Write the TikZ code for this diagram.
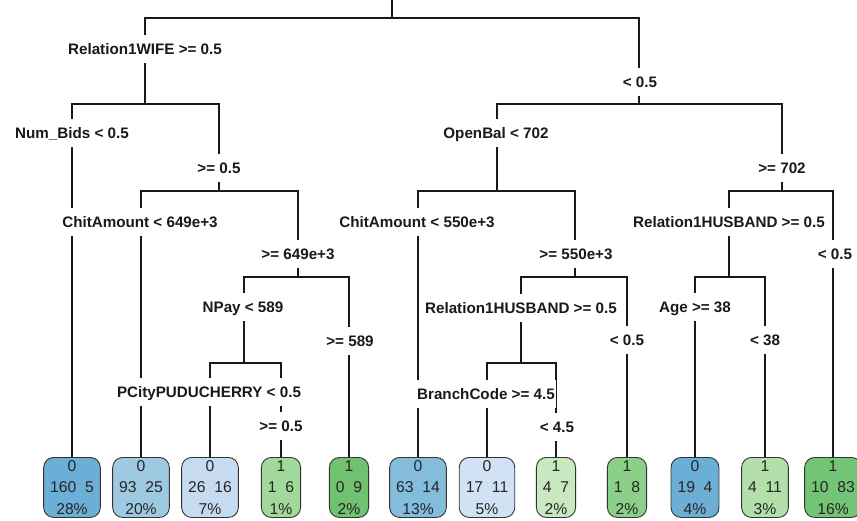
\documentclass[tikz,border=0pt]{standalone}
\usepackage{fontspec}
\setmainfont{Liberation Sans}
\definecolor{bA}{HTML}{6BAED6}
\definecolor{bB}{HTML}{9ECAE1}
\definecolor{bC}{HTML}{C6DBEF}
\definecolor{bD}{HTML}{84BCDC}
\definecolor{bE}{HTML}{D0E2F3}
\definecolor{gA}{HTML}{A1D99B}
\definecolor{gB}{HTML}{70C170}
\definecolor{gC}{HTML}{C8E8C0}
\definecolor{gD}{HTML}{8BCF89}
\definecolor{gE}{HTML}{B3DFAB}
\definecolor{gF}{HTML}{74C476}
\tikzset{
  br/.style={line width=1.1pt, draw=black!90},
  lab/.style={fill=white, font=\bfseries\fontsize{15.2}{18}\selectfont, text height=11pt, text depth=0pt, inner xsep=1pt, inner ysep=8.5pt, text=black!90},
  leaf/.style={draw=black!80, line width=0.9pt, rounded corners=10pt, minimum height=60pt, inner xsep=6.5pt, inner ysep=1pt, align=center, font=\fontsize{15.7}{21.5}\selectfont, anchor=north, text=black!85},
}
\begin{document}
\begin{tikzpicture}[x=1pt,y=-1pt]
\useasboundingbox (0,0) rectangle (857,521);
% internal split points
\coordinate (top) at (392,0);
\coordinate (n1) at (392,18);
\coordinate (n2) at (145,104);
\coordinate (n3) at (639,104);
\coordinate (n5) at (219,191);
\coordinate (n11) at (298,277);
\coordinate (n22) at (244,363);
\coordinate (n6) at (497,191);
\coordinate (n7) at (782,191);
\coordinate (n13) at (575,277);
\coordinate (n26) at (521,363);
\coordinate (n14) at (729,277);
% leaves
\node[leaf, fill=bA] (l4) at (72,457) {0\\160\ \ 5\\28\%};
\node[leaf, fill=bB] (l10) at (141,457) {0\\93\ \ 25\\20\%};
\node[leaf, fill=bC] (l44) at (210,457) {0\\26\ \ 16\\7\%};
\node[leaf, fill=gA] (l45) at (281,457) {1\\1\ \ 6\\1\%};
\node[leaf, fill=gB] (l23) at (349,457) {1\\0\ \ 9\\2\%};
\node[leaf, fill=bD] (l12) at (418,457) {0\\63\ \ 14\\13\%};
\node[leaf, fill=bE] (l52) at (487,457) {0\\17\ \ 11\\5\%};
\node[leaf, fill=gC] (l53) at (556,457) {1\\4\ \ 7\\2\%};
\node[leaf, fill=gD] (l27) at (627,457) {1\\1\ \ 8\\2\%};
\node[leaf, fill=bA] (l28) at (695,457) {0\\19\ \ 4\\4\%};
\node[leaf, fill=gE] (l29) at (765,457) {1\\4\ \ 11\\3\%};
\node[leaf, fill=gF] (l15) at (833,457) {1\\10\ \ 83\\16\%};
% connectors
\draw[br] (top) -- (n1);
\draw[br] (n1) -| (n2);
\draw[br] (n1) -| (n3);
\draw[br] (n2) -| (l4.north);
\draw[br] (n2) -| (n5);
\draw[br] (n5) -| (l10.north);
\draw[br] (n5) -| (n11);
\draw[br] (n11) -| (n22);
\draw[br] (n11) -| (l23.north);
\draw[br] (n22) -| (l44.north);
\draw[br] (n22) -| (l45.north);
\draw[br] (n3) -| (n6);
\draw[br] (n3) -| (n7);
\draw[br] (n6) -| (l12.north);
\draw[br] (n6) -| (n13);
\draw[br] (n13) -| (n26);
\draw[br] (n13) -| (l27.north);
\draw[br] (n26) -| (l52.north);
\draw[br] (n26) -| (l53.north);
\draw[br] (n7) -| (n14);
\draw[br] (n7) -| (l15.north);
\draw[br] (n14) -| (l28.north);
\draw[br] (n14) -| (l29.north);
% branch labels
\node[lab] (t2) at (145,49) {Relation1WIFE >= 0.5};
\node[lab] (t3) at (640,82) {< 0.5};
\node[lab] (t4) at (72,133) {Num\_Bids < 0.5};
\node[lab] (t5) at (219,168) {>= 0.5};
\node[lab] (t10) at (140,222) {ChitAmount < 649e+3};
\node[lab] (t11) at (298,254) {>= 649e+3};
\node[lab] (t22) at (243,307) {NPay < 589};
\node[lab] (t23) at (350,341) {>= 589};
\node[lab] (t44) at (209,392) {PCityPUDUCHERRY < 0.5};
\node[lab] (t45) at (281,426) {>= 0.5};
\node[lab] (t6) at (496,133) {OpenBal < 702};
\node[lab] (t7) at (782,168) {>= 702};
\node[lab] (t12) at (417,222) {ChitAmount < 550e+3};
\node[lab] (t13) at (576,254) {>= 550e+3};
\node[lab] (t26) at (521,308) {Relation1HUSBAND >= 0.5};
\node[lab] (t27) at (627,340) {< 0.5};
\node[lab] (t52) at (486,394) {BranchCode >= 4.5};
\node[lab] (t53) at (557,427) {< 4.5};
\node[lab] (t14) at (729,222) {Relation1HUSBAND >= 0.5};
\node[lab] (t15) at (835,254) {< 0.5};
\node[lab] (t28) at (695,307) {Age >= 38};
\node[lab] (t29) at (765,340) {< 38};
\end{tikzpicture}
\end{document}
